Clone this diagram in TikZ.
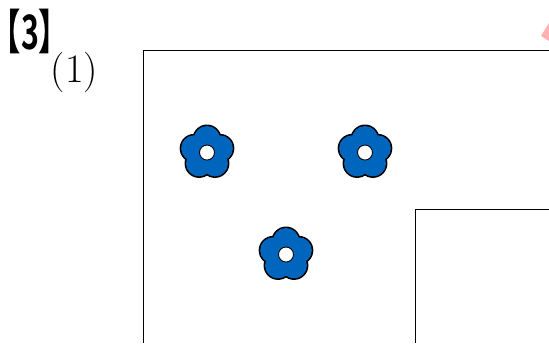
\documentclass[tikz,border=0pt]{standalone}
\usepackage{fontspec}
\newfontfamily\cjkbold[FakeStretch=0.64]{Noto Sans CJK JP Bold}
\definecolor{petal}{RGB}{0,102,189}
\definecolor{marker}{RGB}{255,176,176}

\begin{document}
\begin{tikzpicture}[
    x=0.02cm, y=-0.02cm,
    boxline/.style={draw=black, line width=0.4pt},
    numlabel/.style={font=\fontsize{23}{23}\selectfont, inner sep=0pt},
    headlabel/.style={font=\fontsize{27}{27}\cjkbold, inner sep=0pt, text=black},
]

\useasboundingbox (0,0) rectangle (549,343);

% Corner marker
\fill[marker] (541,36) -- (549,23) -- (549,41) -- cycle;

% Labels
\node[headlabel] (head) at (30,31) {\kern-0.5em【3】\kern-0.5em};
\node[numlabel] (num) at (74.5,72) {(1)};

% Frames, open at the picture edge
\draw[boxline] (549,50) -- (143,50) -- (143,343);
\draw[boxline] (549,209) -- (415,209) -- (415,343);

% Flowers
\foreach \fx/\fy in {207/152.5, 365/152.5, 286/254.5}{
  \foreach \a in {90,162,234,306,18}{
    \fill[black] (\fx,\fy) ++(\a:13.5 and -13.5) circle (0.29cm);
  }
  \foreach \a in {90,162,234,306,18}{
    \fill[petal] (\fx,\fy) ++(\a:13.5 and -13.5) circle (0.26cm);
  }
  \fill[petal] (\fx,\fy) circle (0.28cm);
  \fill[white, draw=black, line width=0.5pt] (\fx,\fy) circle (0.15cm);
}

\end{tikzpicture}
\end{document}
